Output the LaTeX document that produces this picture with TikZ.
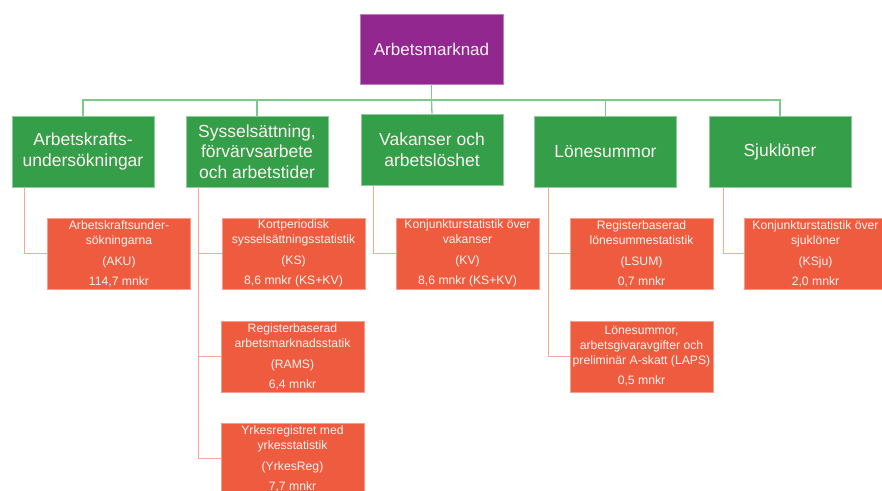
\documentclass[tikz,border=0pt]{standalone}
\usepackage{fontspec}
\setmainfont{Liberation Sans}
\definecolor{cpurple}{HTML}{92278F}
\definecolor{cgreen}{HTML}{349E48}
\definecolor{corange}{HTML}{EF5B3E}
\definecolor{lgreen}{HTML}{7DC98A}
\definecolor{lorange}{HTML}{F7A796}
\definecolor{txt}{HTML}{FBF3F1}
\tikzset{
  topbox/.style={fill=cpurple, draw=cpurple!60!white, line width=0.6pt, minimum width=143pt, minimum height=70pt, inner sep=0pt, text=txt, font=\fontsize{17}{20}\selectfont},
  catbox/.style={fill=cgreen, draw=cgreen!55!white, line width=0.6pt, minimum width=142pt, minimum height=71pt, inner sep=0pt, text=txt, align=center, font=\fontsize{17.5}{20.5}\selectfont},
  leafbox/.style={fill=corange, draw=corange!60!white, line width=0.6pt, minimum width=143pt, minimum height=71pt, inner sep=0pt, text=txt, align=center, font=\fontsize{12.2}{15}\selectfont},
  gline/.style={draw=lgreen, line width=1.3pt},
  oline/.style={draw=lorange, line width=1.3pt}
}
\begin{document}
\begin{tikzpicture}[x=1pt,y=-1pt]
\useasboundingbox (0,0) rectangle (882,490);
\clip (0,0) rectangle (882,490);
\fill[white] (0,0) rectangle (882,490);
% top
\node[topbox] (top) at (431.5,49) {Arbetsmarknad};
% categories
\node[catbox] (g1) at (83,151.5) {Arbetskrafts-\\undersökningar};
\node[catbox] (g2) at (257,151.5) {Sysselsättning,\\förvärvsarbete\\och arbetstider};
\node[catbox] (g3) at (432,149.5) {Vakanser och\\arbetslöshet};
\node[catbox] (g4) at (605.5,151.5) {Lönesummor};
\node[catbox] (g5) at (780,151.5) {Sjuklöner};
% leaves
\node[leafbox] (aku) at (119,253.5) {Arbetskraftsunder-\\sökningarna\\[6pt](AKU)\\[5pt]114,7 mnkr};
\node[leafbox] (ks) at (293.5,253.5) {Kortperiodisk\\sysselsättningsstatistik\\[6pt](KS)\\[5pt]8,6 mnkr (KS+KV)};
\node[leafbox] (rams) at (292.5,356.5) {Registerbaserad\\arbetsmarknadsstatik\\[6pt](RAMS)\\[5pt]6,4 mnkr};
\node[leafbox] (yrk) at (292.5,458.5) {Yrkesregistret med\\yrkesstatistik\\[6pt](YrkesReg)\\[5pt]7,7 mnkr};
\node[leafbox] (kv) at (467.5,253.5) {Konjunkturstatistik över\\vakanser\\[6pt](KV)\\[5pt]8,6 mnkr (KS+KV)};
\node[leafbox] (lsum) at (641.5,253.5) {Registerbaserad\\lönesummestatistik\\[6pt](LSUM)\\[5pt]0,7 mnkr};
\node[leafbox] (laps) at (641.5,356.5) {Lönesummor,\\arbetsgivaravgifter och\\preliminär A-skatt (LAPS)\\[5pt]0,5 mnkr};
\node[leafbox] (ksju) at (815.5,253.5) {Konjunkturstatistik över\\sjuklöner\\[6pt](KSju)\\[5pt]2,0 mnkr};
% green connectors
\coordinate (hub) at (431.5,100);
\draw[gline] (top.south) -- (hub);
\draw[gline] (hub) -| (g1.north);
\draw[gline] (hub) -| (g2.north);
\draw[gline] (hub) -- (g3.north);
\draw[gline] (hub) -| (g4.north);
\draw[gline] (hub) -| (g5.north);
% orange connectors
\draw[oline] ([xshift=13pt]g1.south west) |- (aku.west);
\draw[oline] ([xshift=13pt]g2.south west) |- (ks.west);
\draw[oline] ([xshift=13pt]g2.south west) |- (rams.west);
\draw[oline] ([xshift=13pt]g2.south west) |- (yrk.west);
\draw[oline] ([xshift=13pt]g3.south west) |- (kv.west);
\draw[oline] ([xshift=14.5pt]g4.south west) |- (lsum.west);
\draw[oline] ([xshift=14.5pt]g4.south west) |- (laps.west);
\draw[oline] ([xshift=15pt]g5.south west) |- (ksju.west);
\end{tikzpicture}
\end{document}
